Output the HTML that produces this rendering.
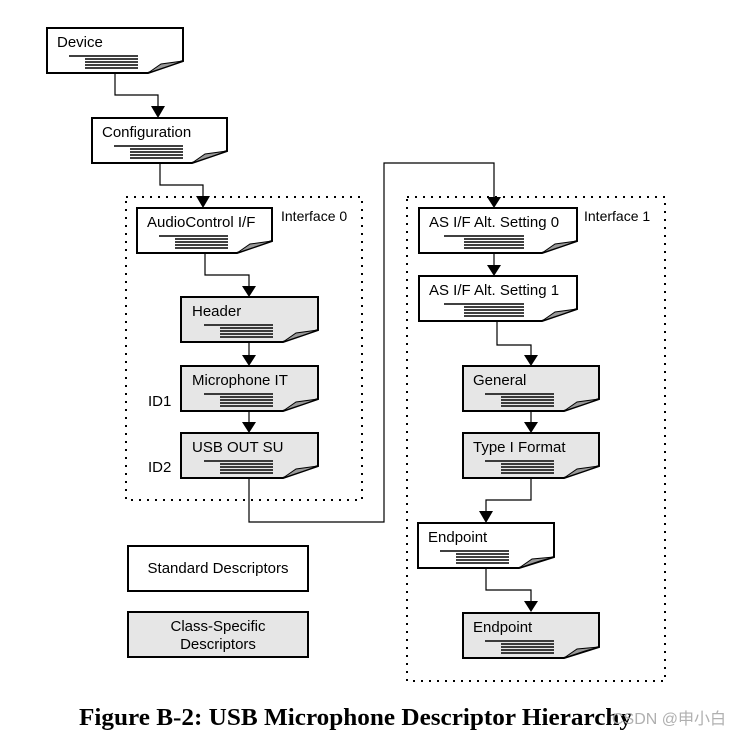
<!DOCTYPE html>
<html><head><meta charset="utf-8"><style>
html,body{margin:0;padding:0;background:#fff;}
svg{display:block;}
text{font-family:"Liberation Sans",Arial,sans-serif;font-size:15px;fill:#000;}
</style></head><body>
<svg width="756" height="737" viewBox="0 0 756 737" xmlns="http://www.w3.org/2000/svg">
<rect x="126" y="197" width="236" height="303" fill="none" stroke="#000" stroke-width="2" stroke-dasharray="2,6"/>
<rect x="407" y="197" width="258" height="484" fill="none" stroke="#000" stroke-width="2" stroke-dasharray="2,6"/>
<text x="281" y="221" style="font-size:14px">Interface 0</text>
<text x="584" y="221" style="font-size:14px">Interface 1</text>
<text x="148" y="406">ID1</text>
<text x="148" y="472">ID2</text>

<g fill="none" stroke="#000" stroke-width="1.2">
<polyline points="115,73 115,95 158,95 158,106"/>
<polyline points="160,163 160,185 203,185 203,196"/>
<polyline points="205,253 205,275 249,275 249,286"/>
<polyline points="249,342 249,355"/>
<polyline points="249,411 249,422"/>
<polyline points="249,478 249,522 384,522 384,163 494,163 494,197"/>
<polyline points="494,253 494,265"/>
<polyline points="497,321 497,345 531,345 531,355"/>
<polyline points="531,411 531,422"/>
<polyline points="531,478 531,500 486,500 486,511"/>
<polyline points="486,568 486,590 531,590 531,601"/>
</g>
<g fill="#000">
<path d="M151,106 L165,106 L158,118 Z"/>
<path d="M196,196 L210,196 L203,208 Z"/>
<path d="M242,286 L256,286 L249,297 Z"/>
<path d="M242,355 L256,355 L249,366 Z"/>
<path d="M242,422 L256,422 L249,433 Z"/>
<path d="M487,197 L501,197 L494,208 Z"/>
<path d="M487,265 L501,265 L494,276 Z"/>
<path d="M524,355 L538,355 L531,366 Z"/>
<path d="M524,422 L538,422 L531,433 Z"/>
<path d="M479,511 L493,511 L486,523 Z"/>
<path d="M524,601 L538,601 L531,612 Z"/>
</g>

<g transform="translate(47,28)">
<path d="M0,0 H136 V33 L101,45 H0 Z" fill="#fff" stroke="#000" stroke-width="2"/>
<path d="M101,45 L114,36 L136,33 L122,38 Z" fill="#999" stroke="#000" stroke-width="1"/>
<g stroke="#000" stroke-width="1.6"><line x1="22" y1="28" x2="91" y2="28"/><line x1="38" y1="31" x2="91" y2="31"/><line x1="38" y1="34" x2="91" y2="34"/><line x1="38" y1="37" x2="91" y2="37"/><line x1="38" y1="40" x2="91" y2="40"/></g>
<text x="10" y="19">Device</text></g>

<g transform="translate(92,118)">
<path d="M0,0 H135 V33 L100,45 H0 Z" fill="#fff" stroke="#000" stroke-width="2"/>
<path d="M100,45 L113,36 L135,33 L121,38 Z" fill="#999" stroke="#000" stroke-width="1"/>
<g stroke="#000" stroke-width="1.6"><line x1="22" y1="28" x2="91" y2="28"/><line x1="38" y1="31" x2="91" y2="31"/><line x1="38" y1="34" x2="91" y2="34"/><line x1="38" y1="37" x2="91" y2="37"/><line x1="38" y1="40" x2="91" y2="40"/></g>
<text x="10" y="19">Configuration</text></g>

<g transform="translate(137,208)">
<path d="M0,0 H135 V33 L100,45 H0 Z" fill="#fff" stroke="#000" stroke-width="2"/>
<path d="M100,45 L113,36 L135,33 L121,38 Z" fill="#999" stroke="#000" stroke-width="1"/>
<g stroke="#000" stroke-width="1.6"><line x1="22" y1="28" x2="91" y2="28"/><line x1="38" y1="31" x2="91" y2="31"/><line x1="38" y1="34" x2="91" y2="34"/><line x1="38" y1="37" x2="91" y2="37"/><line x1="38" y1="40" x2="91" y2="40"/></g>
<text x="10" y="19">AudioControl I/F</text></g>

<g transform="translate(181,297)">
<path d="M0,0 H137 V33 L102,45 H0 Z" fill="#e6e6e6" stroke="#000" stroke-width="2"/>
<path d="M102,45 L115,36 L137,33 L123,38 Z" fill="#999" stroke="#000" stroke-width="1"/>
<g stroke="#000" stroke-width="1.6"><line x1="23" y1="28" x2="92" y2="28"/><line x1="39" y1="31" x2="92" y2="31"/><line x1="39" y1="34" x2="92" y2="34"/><line x1="39" y1="37" x2="92" y2="37"/><line x1="39" y1="40" x2="92" y2="40"/></g>
<text x="11" y="19">Header</text></g>

<g transform="translate(181,366)">
<path d="M0,0 H137 V33 L102,45 H0 Z" fill="#e6e6e6" stroke="#000" stroke-width="2"/>
<path d="M102,45 L115,36 L137,33 L123,38 Z" fill="#999" stroke="#000" stroke-width="1"/>
<g stroke="#000" stroke-width="1.6"><line x1="23" y1="28" x2="92" y2="28"/><line x1="39" y1="31" x2="92" y2="31"/><line x1="39" y1="34" x2="92" y2="34"/><line x1="39" y1="37" x2="92" y2="37"/><line x1="39" y1="40" x2="92" y2="40"/></g>
<text x="11" y="19">Microphone IT</text></g>

<g transform="translate(181,433)">
<path d="M0,0 H137 V33 L102,45 H0 Z" fill="#e6e6e6" stroke="#000" stroke-width="2"/>
<path d="M102,45 L115,36 L137,33 L123,38 Z" fill="#999" stroke="#000" stroke-width="1"/>
<g stroke="#000" stroke-width="1.6"><line x1="23" y1="28" x2="92" y2="28"/><line x1="39" y1="31" x2="92" y2="31"/><line x1="39" y1="34" x2="92" y2="34"/><line x1="39" y1="37" x2="92" y2="37"/><line x1="39" y1="40" x2="92" y2="40"/></g>
<text x="11" y="19">USB OUT SU</text></g>

<g transform="translate(419,208)">
<path d="M0,0 H158 V33 L123,45 H0 Z" fill="#fff" stroke="#000" stroke-width="2"/>
<path d="M123,45 L136,36 L158,33 L144,38 Z" fill="#999" stroke="#000" stroke-width="1"/>
<g stroke="#000" stroke-width="1.6"><line x1="25" y1="28" x2="105" y2="28"/><line x1="45" y1="31" x2="105" y2="31"/><line x1="45" y1="34" x2="105" y2="34"/><line x1="45" y1="37" x2="105" y2="37"/><line x1="45" y1="40" x2="105" y2="40"/></g>
<text x="10" y="19">AS I/F Alt. Setting 0</text></g>

<g transform="translate(419,276)">
<path d="M0,0 H158 V33 L123,45 H0 Z" fill="#fff" stroke="#000" stroke-width="2"/>
<path d="M123,45 L136,36 L158,33 L144,38 Z" fill="#999" stroke="#000" stroke-width="1"/>
<g stroke="#000" stroke-width="1.6"><line x1="25" y1="28" x2="105" y2="28"/><line x1="45" y1="31" x2="105" y2="31"/><line x1="45" y1="34" x2="105" y2="34"/><line x1="45" y1="37" x2="105" y2="37"/><line x1="45" y1="40" x2="105" y2="40"/></g>
<text x="10" y="19">AS I/F Alt. Setting 1</text></g>

<g transform="translate(463,366)">
<path d="M0,0 H136 V33 L101,45 H0 Z" fill="#e6e6e6" stroke="#000" stroke-width="2"/>
<path d="M101,45 L114,36 L136,33 L122,38 Z" fill="#999" stroke="#000" stroke-width="1"/>
<g stroke="#000" stroke-width="1.6"><line x1="22" y1="28" x2="91" y2="28"/><line x1="38" y1="31" x2="91" y2="31"/><line x1="38" y1="34" x2="91" y2="34"/><line x1="38" y1="37" x2="91" y2="37"/><line x1="38" y1="40" x2="91" y2="40"/></g>
<text x="10" y="19">General</text></g>

<g transform="translate(463,433)">
<path d="M0,0 H136 V33 L101,45 H0 Z" fill="#e6e6e6" stroke="#000" stroke-width="2"/>
<path d="M101,45 L114,36 L136,33 L122,38 Z" fill="#999" stroke="#000" stroke-width="1"/>
<g stroke="#000" stroke-width="1.6"><line x1="22" y1="28" x2="91" y2="28"/><line x1="38" y1="31" x2="91" y2="31"/><line x1="38" y1="34" x2="91" y2="34"/><line x1="38" y1="37" x2="91" y2="37"/><line x1="38" y1="40" x2="91" y2="40"/></g>
<text x="10" y="19">Type I Format</text></g>

<g transform="translate(418,523)">
<path d="M0,0 H136 V34 L101,45 H0 Z" fill="#fff" stroke="#000" stroke-width="2"/>
<path d="M101,45 L114,36 L136,34 L122,38 Z" fill="#999" stroke="#000" stroke-width="1"/>
<g stroke="#000" stroke-width="1.6"><line x1="22" y1="28" x2="91" y2="28"/><line x1="38" y1="31" x2="91" y2="31"/><line x1="38" y1="34" x2="91" y2="34"/><line x1="38" y1="37" x2="91" y2="37"/><line x1="38" y1="40" x2="91" y2="40"/></g>
<text x="10" y="19">Endpoint</text></g>

<g transform="translate(463,613)">
<path d="M0,0 H136 V34 L101,45 H0 Z" fill="#e6e6e6" stroke="#000" stroke-width="2"/>
<path d="M101,45 L114,36 L136,34 L122,38 Z" fill="#999" stroke="#000" stroke-width="1"/>
<g stroke="#000" stroke-width="1.6"><line x1="22" y1="28" x2="91" y2="28"/><line x1="38" y1="31" x2="91" y2="31"/><line x1="38" y1="34" x2="91" y2="34"/><line x1="38" y1="37" x2="91" y2="37"/><line x1="38" y1="40" x2="91" y2="40"/></g>
<text x="10" y="19">Endpoint</text></g>

<rect x="128" y="546" width="180" height="45" fill="#fff" stroke="#000" stroke-width="2"/>
<text x="218" y="573" text-anchor="middle">Standard Descriptors</text>
<rect x="128" y="612" width="180" height="45" fill="#e6e6e6" stroke="#000" stroke-width="2"/>
<text x="218" y="631" text-anchor="middle">Class-Specific</text>
<text x="218" y="649" text-anchor="middle">Descriptors</text>

<text x="79" y="725" textLength="553" lengthAdjust="spacingAndGlyphs" style="font-family:'Liberation Serif','Times New Roman',serif;font-size:24px;font-weight:bold;">Figure B-2: USB Microphone Descriptor Hierarchy</text>
<text x="612" y="724" style="font-family:'Liberation Sans','Noto Sans CJK SC',sans-serif;font-size:16px;fill:#b0b0b0;">CSDN @申小白</text>
</svg>
</body></html>
